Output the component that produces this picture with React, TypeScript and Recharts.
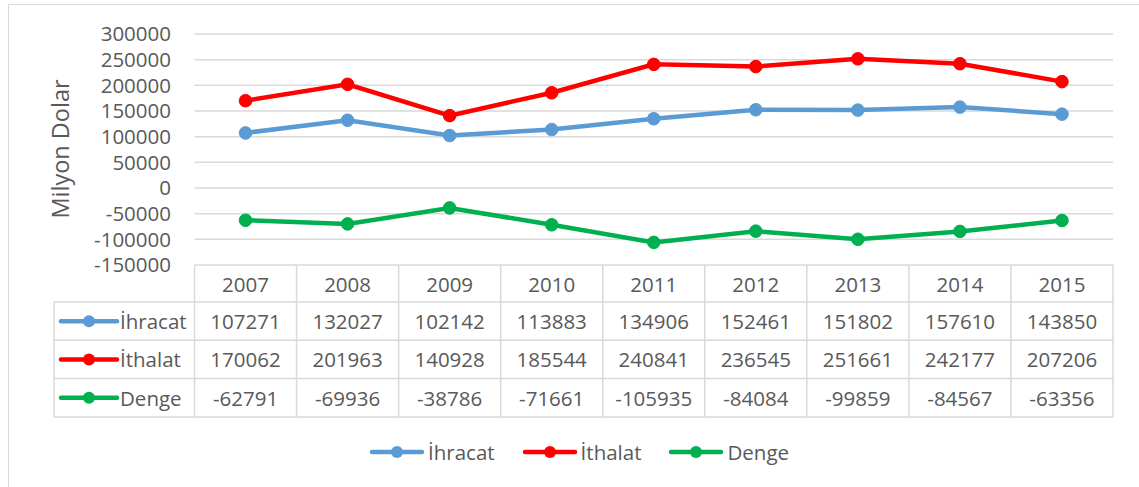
import React from 'react';
import { LineChart, Line, XAxis, YAxis, CartesianGrid, Legend } from 'recharts';

const years = ['2007', '2008', '2009', '2010', '2011', '2012', '2013', '2014', '2015'];
const ihracat = [107271, 132027, 102142, 113883, 134906, 152461, 151802, 157610, 143850];
const ithalat = [170062, 201963, 140928, 185544, 240841, 236545, 251661, 242177, 207206];
const denge = [-62791, -69936, -38786, -71661, -105935, -84084, -99859, -84567, -63356];
const yTicks = [-150000, -100000, -50000, 0, 50000, 100000, 150000, 200000, 250000, 300000];
const seriesKeys = ['ihracat', 'ithalat', 'denge'];
const seriesNames = ['İhracat', 'İthalat', 'Denge'];
const seriesColors = ['#5B9BD5', '#FF0000', '#00B050'];
const seriesValues = [ihracat, ithalat, denge];
const yTitle = 'Milyon Dolar';

const data = years.map((y, i) => ({ year: y, ihracat: ihracat[i], ithalat: ithalat[i], denge: denge[i] }));

const FONT = '"Open Sans", sans-serif';
const TEXT = '#595959';
const GRID = '#d9d9d9';
const PLOT_LEFT = 194.5;
const PLOT_RIGHT = 1113;
const COL_W = (PLOT_RIGHT - PLOT_LEFT) / years.length;
const HEADER_H = 37;
const ROW_H = 38.3;
const LABEL_LEFT = 54;

function Key({ color, width = 56 }: { color: string; width?: number }) {
  return (
    <g>
      <line x1={3} y1={0} x2={width - 3} y2={0} stroke={color} strokeWidth={4.5} strokeLinecap="round" />
      <circle cx={width / 2} cy={0} r={6} fill={color} />
    </g>
  );
}

function TableColumn(props: any) {
  const { x, y, payload } = props;
  const i: number = payload?.index ?? props.index ?? 0;
  const half = COL_W / 2;
  const total = HEADER_H + 3 * ROW_H;
  const rowTop = (r: number) => y + HEADER_H + r * ROW_H;
  const textProps = {
    fill: TEXT,
    fontSize: 20.5,
    fontFamily: FONT,
    textAnchor: 'middle' as const,
    dominantBaseline: 'central' as const,
  };
  return (
    <g>
      <line x1={x + half} y1={y} x2={x + half} y2={y + total} stroke={GRID} strokeWidth={1.5} />
      {i === 0 && <line x1={x - half} y1={y} x2={x - half} y2={y + total} stroke={GRID} strokeWidth={1.5} />}
      {[0, 1, 2, 3].map((r) => (
        <line key={r} x1={x - half} y1={rowTop(r)} x2={x + half} y2={rowTop(r)} stroke={GRID} strokeWidth={1.5} />
      ))}
      <text x={x} y={y + HEADER_H / 2} {...textProps}>{payload.value}</text>
      {seriesValues.map((vals, r) => (
        <text key={r} x={x} y={rowTop(r) + ROW_H / 2} {...textProps}>{vals[i]}</text>
      ))}
      {i === 0 && (
        <g>
          <line x1={LABEL_LEFT} y1={rowTop(0)} x2={LABEL_LEFT} y2={rowTop(3)} stroke={GRID} strokeWidth={1.5} />
          {[0, 1, 2, 3].map((r) => (
            <line key={r} x1={LABEL_LEFT} y1={rowTop(r)} x2={x - half} y2={rowTop(r)} stroke={GRID} strokeWidth={1.5} />
          ))}
          {seriesNames.map((n, r) => (
            <g key={n}>
              <g transform={`translate(${LABEL_LEFT + 4}, ${rowTop(r) + ROW_H / 2})`}>
                <Key color={seriesColors[r]} width={62} />
              </g>
              <text x={LABEL_LEFT + 66} y={rowTop(r) + ROW_H / 2} {...textProps} textAnchor="start">{n}</text>
            </g>
          ))}
        </g>
      )}
    </g>
  );
}

function renderLegend() {
  return (
    <div style={{ display: 'flex', alignItems: 'center', height: 28, fontFamily: FONT, fontSize: 20.5, color: TEXT }}>
      {seriesNames.map((n, r) => (
        <div key={n} style={{ display: 'flex', alignItems: 'center', marginRight: 27 }}>
          <svg width={56} height={20} style={{ display: 'block' }}>
            <g transform="translate(0,10)"><Key color={seriesColors[r]} /></g>
          </svg>
          <span style={{ marginLeft: 3, lineHeight: '28px' }}>{n}</span>
        </div>
      ))}
    </div>
  );
}

export default function App() {
  return (
    <div style={{ position: 'fixed', left: 0, top: 0, width: 1139, height: 487, overflow: 'hidden', background: '#fff' }}>
      <div style={{ position: 'absolute', left: 8, top: 4, width: 1200, height: 600, border: `1.5px solid ${GRID}` }} />
      <div style={{ position: 'absolute', left: 0, top: 0 }}>
        <LineChart
          width={1139}
          height={487}
          data={data}
          margin={{ top: 34, right: 1139 - PLOT_RIGHT, bottom: 62, left: PLOT_LEFT - 100 }}
        >
          <CartesianGrid horizontal vertical={false} stroke={GRID} strokeWidth={1.5} />
          <XAxis
            dataKey="year"
            axisLine={false}
            tickLine={false}
            tickSize={0}
            tickMargin={0}
            height={160}
            interval={0}
            padding={{ left: COL_W / 2, right: COL_W / 2 }}
            tick={(p: any) => <TableColumn {...p} />}
          />
          <YAxis
            width={100}
            domain={[-150000, 300000]}
            ticks={yTicks}
            interval={0}
            axisLine={false}
            tickLine={false}
            tickSize={0}
            tickMargin={23.5}
            tick={{ fill: TEXT, fontSize: 20.5, fontFamily: FONT }}
            label={{
              content: () => (
                <text
                  x={60}
                  y={149}
                  transform="rotate(-90 60 149)"
                  textAnchor="middle"
                  dominantBaseline="central"
                  fill={TEXT}
                  fontSize={23.5}
                  fontFamily={FONT}
                >
                  {yTitle}
                </text>
              ),
            }}
          />
          {seriesKeys.map((k, r) => (
            <Line
              key={k}
              dataKey={k}
              name={seriesNames[r]}
              stroke={seriesColors[r]}
              strokeWidth={4.5}
              dot={{ r: 6.3, fill: seriesColors[r], stroke: seriesColors[r], strokeWidth: 1 }}
              activeDot={false}
              isAnimationActive={false}
            />
          ))}
          <Legend
            verticalAlign="middle"
            align="center"
            layout="horizontal"
            content={renderLegend}
            wrapperStyle={{ left: 369, top: 438, width: 'auto', height: 28 }}
          />
        </LineChart>
      </div>
    </div>
  );
}
